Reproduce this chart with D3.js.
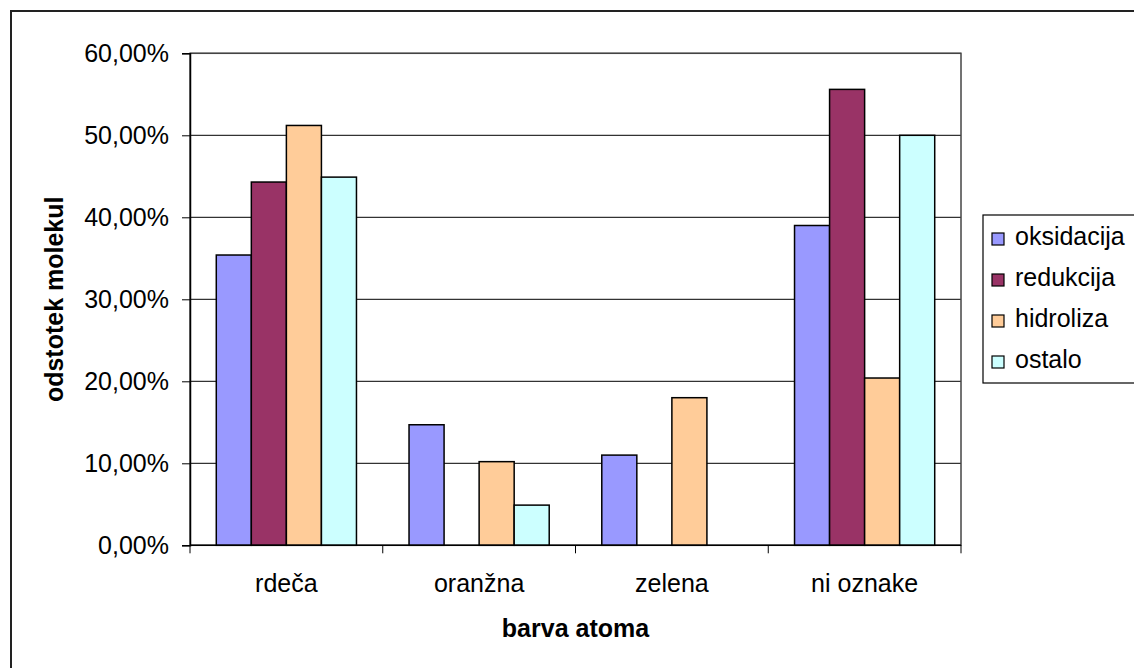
<!DOCTYPE html>
<html>
<head>
<meta charset="utf-8">
<script src="https://cdn.jsdelivr.net/npm/d3@7"></script>
<style>
  html, body { margin: 0; padding: 0; background: #fff; }
  svg { display: block; }
  text { font-family: "Liberation Sans", Arial, sans-serif; fill: #000; }
</style>
</head>
<body>
<svg id="chart" width="1134" height="668"></svg>
<script>
// Categories (atom colour) and the four reaction types
const categories = ["rdeča", "oranžna", "zelena", "ni oznake"];
const seriesNames = ["oksidacija", "redukcija", "hidroliza", "ostalo"];
const seriesColors = ["#9999FF", "#993366", "#FFCC99", "#CCFFFF"];

// Share of molecules per category, one array per series
const oksidacija = [0.354, 0.147, 0.110, 0.390];
const redukcija  = [0.443, 0.000, 0.000, 0.556];
const hidroliza  = [0.512, 0.102, 0.180, 0.204];
const ostalo     = [0.449, 0.049, 0.000, 0.500];

const yTicks = [0, 0.1, 0.2, 0.3, 0.4, 0.5, 0.6];
const xTitle = "barva atoma";
const yTitle = "odstotek molekul";

const seriesValues = [oksidacija, redukcija, hidroliza, ostalo];

const svg = d3.select("#chart");
const plot = { left: 190, right: 961, top: 53.3, bottom: 545.3 };

const sl = d3.formatLocale({ decimal: ",", thousands: ".", grouping: [3], currency: ["", " €"] });
const fmt = sl.format(".2%");

// Outer chart frame (runs past the right and bottom edges)
svg.append("rect")
  .attr("x", 11).attr("y", 11)
  .attr("width", 1200).attr("height", 720)
  .attr("fill", "none").attr("stroke", "#222").attr("stroke-width", 2);

const x0 = d3.scaleBand().domain(categories).range([plot.left, plot.right]).paddingInner(0).paddingOuter(0);
const x1 = d3.scaleBand().domain(seriesNames).range([0, x0.bandwidth()]).paddingInner(0).paddingOuter(0.75);
const y = d3.scaleLinear().domain([0, 0.6]).range([plot.bottom, plot.top]);

// Horizontal gridlines
svg.append("g").selectAll("line").data(yTicks.slice(1)).join("line")
  .attr("x1", plot.left).attr("x2", plot.right)
  .attr("y1", d => y(d)).attr("y2", d => y(d))
  .attr("stroke", "#000").attr("stroke-width", 1);

// Plot area frame
svg.append("rect")
  .attr("x", plot.left).attr("y", plot.top)
  .attr("width", plot.right - plot.left).attr("height", plot.bottom - plot.top)
  .attr("fill", "none").attr("stroke", "#444").attr("stroke-width", 1.5);

// Bars
const barData = [];
categories.forEach((c, ci) => {
  seriesNames.forEach((s, si) => {
    barData.push({ cat: c, series: s, value: seriesValues[si][ci], color: seriesColors[si] });
  });
});
svg.append("g").selectAll("rect").data(barData.filter(d => d.value > 0)).join("rect")
  .attr("x", d => x0(d.cat) + x1(d.series))
  .attr("y", d => y(d.value))
  .attr("width", x1.bandwidth())
  .attr("height", d => y(0) - y(d.value))
  .attr("fill", d => d.color)
  .attr("stroke", "#000").attr("stroke-width", 1.5);

// Y axis
const yAxis = svg.append("g").attr("transform", `translate(${plot.left},0)`)
  .call(d3.axisLeft(y).tickValues(yTicks).tickFormat(fmt).tickSize(8).tickPadding(13));
yAxis.select(".domain").attr("stroke", "#000").attr("stroke-width", 1.5);
yAxis.selectAll(".tick line").attr("stroke", "#000");
yAxis.selectAll(".tick text")
  .style("font-family", '"Liberation Sans", Arial, sans-serif')
  .style("font-size", "25px").attr("fill", "#000").attr("dy", "0.33em");

// X axis with ticks at category boundaries
const xAxis = svg.append("g").attr("transform", `translate(0,${plot.bottom})`);
xAxis.append("line").attr("x1", plot.left).attr("x2", plot.right)
  .attr("stroke", "#000").attr("stroke-width", 1.5);
const bounds = categories.map(c => x0(c)).concat([plot.right]);
xAxis.selectAll("line.tk").data(bounds).join("line").attr("class", "tk")
  .attr("x1", d => d).attr("x2", d => d).attr("y1", 0).attr("y2", 8)
  .attr("stroke", "#000");
xAxis.selectAll("text").data(categories).join("text")
  .attr("x", d => x0(d) + x0.bandwidth() / 2)
  .attr("y", 46.5)
  .attr("text-anchor", "middle")
  .style("font-size", "25px")
  .text(d => d);

// Axis titles
svg.append("text")
  .attr("x", (plot.left + plot.right) / 2).attr("y", 637)
  .attr("text-anchor", "middle")
  .style("font-size", "25px").style("font-weight", "bold")
  .text(xTitle);
svg.append("text")
  .attr("transform", `translate(63,${(plot.top + plot.bottom) / 2}) rotate(-90)`)
  .attr("text-anchor", "middle")
  .style("font-size", "25px").style("font-weight", "bold")
  .text(yTitle);

// Legend
const legend = svg.append("g");
legend.append("rect")
  .attr("x", 983).attr("y", 215).attr("width", 200).attr("height", 168)
  .attr("fill", "#fff").attr("stroke", "#000").attr("stroke-width", 1.2);
const items = legend.selectAll("g.item").data(seriesNames).join("g").attr("class", "item")
  .attr("transform", (d, i) => `translate(0,${245 + i * 41})`);
items.append("rect")
  .attr("x", 992).attr("y", -12).attr("width", 12).attr("height", 12)
  .attr("fill", (d, i) => seriesColors[i]).attr("stroke", "#000").attr("stroke-width", 1.2);
items.append("text")
  .attr("x", 1015).attr("y", 0)
  .style("font-size", "25px")
  .text(d => d);
</script>
</body>
</html>
